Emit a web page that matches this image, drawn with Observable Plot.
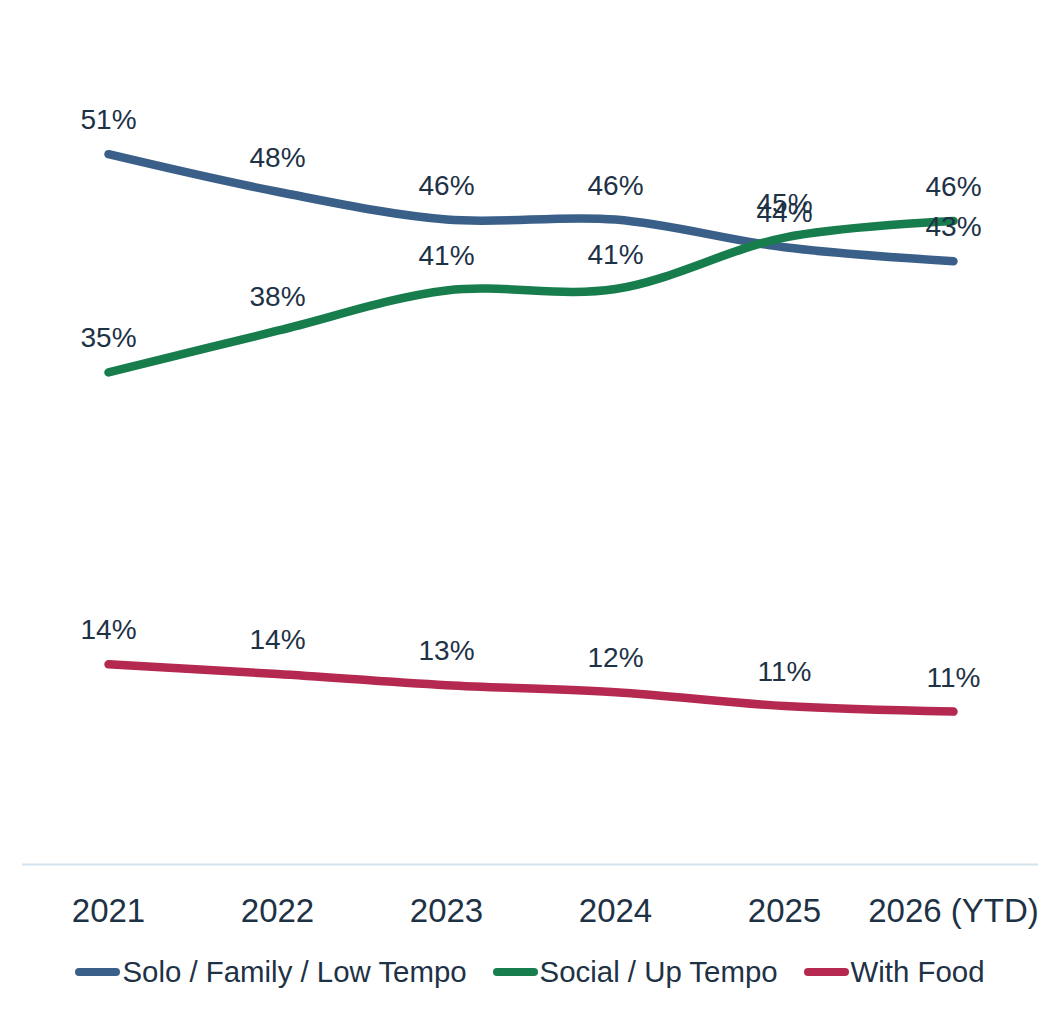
<!DOCTYPE html>
<html>
<head>
<meta charset="utf-8">
<script src="https://cdn.jsdelivr.net/npm/d3@7"></script>
<script src="https://cdn.jsdelivr.net/npm/@observablehq/plot@0.6"></script>
<style>
  html, body { margin: 0; padding: 0; background: #fff; }
  body { width: 1060px; height: 1013px; overflow: hidden; font-family: "Liberation Sans", Arial, sans-serif; }
  #legend { display: flex; justify-content: center; align-items: center; gap: 0; margin-top: 11px; font-size: 29.4px; color: #1E3246; }
  .item { display: flex; align-items: center; margin: 0 13px; }
  .sw { width: 45px; height: 8px; border-radius: 4px; margin-right: 2px; }
</style>
</head>
<body>
<div id="chart"></div>
<div id="legend"></div>
<script>
const years = ["2021", "2022", "2023", "2024", "2025", "2026 (YTD)"];
const seriesNames = ["Solo / Family / Low Tempo", "Social / Up Tempo", "With Food"];
const seriesColors = ["#3A6089", "#177D4C", "#B5284F"];
const soloValues = [51.1, 48.4, 46.4, 46.4, 44.4, 43.4];
const socialValues = [35.4, 38.4, 41.3, 41.4, 45.1, 46.3];
const foodValues = [14.4, 13.7, 12.9, 12.4, 11.4, 11.0];

const allValues = [soloValues, socialValues, foodValues];
const data = seriesNames.flatMap((s, i) => years.map((y, j) => ({series: s, year: y, value: allValues[i][j]})));
const textColor = "#1E3246";

const chart = Plot.plot({
  width: 1060,
  height: 944,
  marginLeft: 22,
  marginRight: 22,
  marginTop: 30,
  marginBottom: 80,
  style: {fontFamily: "'Liberation Sans', Arial, sans-serif", color: textColor, background: "#fff"},
  x: {type: "point", domain: years, padding: 0.5, label: null},
  y: {domain: [0, 60], axis: null},
  color: {domain: seriesNames, range: seriesColors},
  marks: [
    Plot.ruleY([0], {stroke: "#D3E3EE", strokeWidth: 2}),
    Plot.lineY(data, {x: "year", y: "value", z: "series", stroke: "series", strokeWidth: 8.5, curve: "catmull-rom", strokeLinecap: "round", strokeLinejoin: "round"}),
    Plot.text(data, {x: "year", y: "value", text: d => Math.round(d.value) + "%", dy: -34, fontSize: 28, fill: textColor}),
    Plot.axisX({tickSize: 0, tickPadding: 34, fontSize: 33, fill: textColor, label: null})
  ]
});
document.getElementById("chart").appendChild(chart);

const legend = document.getElementById("legend");
seriesNames.forEach((s, i) => {
  const item = document.createElement("div");
  item.className = "item";
  const sw = document.createElement("span");
  sw.className = "sw";
  sw.style.background = seriesColors[i];
  const label = document.createElement("span");
  label.textContent = s;
  item.appendChild(sw);
  item.appendChild(label);
  legend.appendChild(item);
});
</script>
</body>
</html>
